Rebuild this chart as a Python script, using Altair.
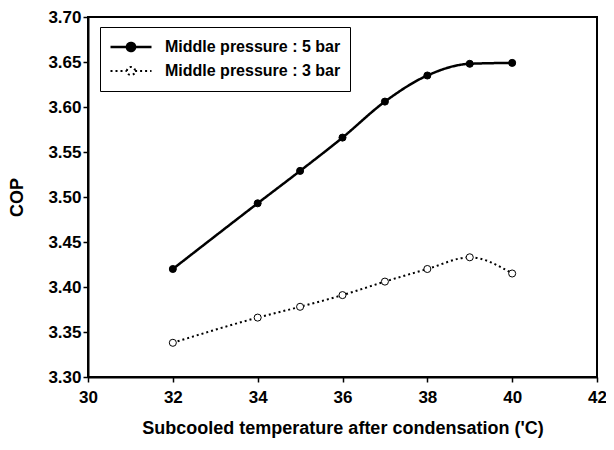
import altair as alt
import pandas as pd

# ---- data ----
subcool_temp = [32, 34, 35, 36, 37, 38, 39, 40]
cop_5bar = [3.420, 3.493, 3.529, 3.566, 3.606, 3.635, 3.648, 3.649]
cop_3bar = [3.338, 3.366, 3.378, 3.391, 3.406, 3.420, 3.433, 3.415]
series_names = ["Middle pressure : 5 bar", "Middle pressure : 3 bar"]
x_ticks = [30, 32, 34, 36, 38, 40, 42]
y_ticks = [3.30, 3.35, 3.40, 3.45, 3.50, 3.55, 3.60, 3.65, 3.70]
x_title = "Subcooled temperature after condensation ('C)"
y_title = "COP"

df = pd.DataFrame({
    "x": subcool_temp + subcool_temp,
    "cop": cop_5bar + cop_3bar,
    "series": [series_names[0]] * len(subcool_temp) + [series_names[1]] * len(subcool_temp),
})

FONT = "Liberation Sans"
legend_path = "M-1,0H-0.2M0.2,0H1M-0.2,0A0.2,0.2 0 1,1 0.2,0A0.2,0.2 0 1,1 -0.2,0Z"

legend = alt.Legend(
    title=None, orient="none", legendX=12, legendY=10,
    symbolType=legend_path, symbolSize=1681, symbolStrokeColor="black",
    symbolStrokeWidth=2, clipHeight=22,
    labelFont=FONT, labelFontSize=16, labelFontWeight="bold", labelColor="black",
    labelOffset=12, labelLimit=400, padding=9, strokeColor="black", fillColor="white",
    cornerRadius=0,
)

x_enc = alt.X("x:Q", scale=alt.Scale(domain=[30, 42], nice=False, zero=False),
              axis=alt.Axis(values=x_ticks, title=x_title, format="d", labelFlush=False,
                            labelPadding=7, titlePadding=14))
y_enc = alt.Y("cop:Q", scale=alt.Scale(domain=[3.30, 3.70], nice=False, zero=False),
              axis=alt.Axis(values=y_ticks, title=y_title, format=".2f",
                            labelPadding=2, titlePadding=21))

base = alt.Chart(df)

lines = base.mark_line(interpolate="monotone", color="black").encode(
    x=x_enc, y=y_enc,
    strokeDash=alt.StrokeDash("series:N",
                              scale=alt.Scale(domain=series_names, range=[[1, 0], [2, 3]]),
                              legend=legend),
    strokeWidth=alt.StrokeWidth("series:N",
                                scale=alt.Scale(domain=series_names, range=[2.5, 2]),
                                legend=None),
)

points = base.mark_point(filled=True, size=50, shape="circle", stroke="black",
                         strokeWidth=1, opacity=1).encode(
    x=x_enc, y=y_enc,
    fill=alt.Fill("series:N",
                  scale=alt.Scale(domain=series_names, range=["black", "white"]),
                  legend=legend),
)

chart = (lines + points).properties(
    width=509, height=360,
    autosize=alt.AutoSizeParams(type="none"),
    padding={"left": 80, "top": 9, "right": 9, "bottom": 65},
).configure_view(
    stroke="black", strokeWidth=2,
).configure_axis(
    grid=False, domainColor="black", domainWidth=2, tickColor="black", tickWidth=1.5,
    tickSize=5, labelFont=FONT, labelFontSize=17, labelFontWeight="bold",
    labelColor="black", titleFont=FONT, titleFontSize=18, titleFontWeight="bold",
    titleColor="black",
)

chart.save("out.html", embed_options={"renderer": "svg", "actions": False})
